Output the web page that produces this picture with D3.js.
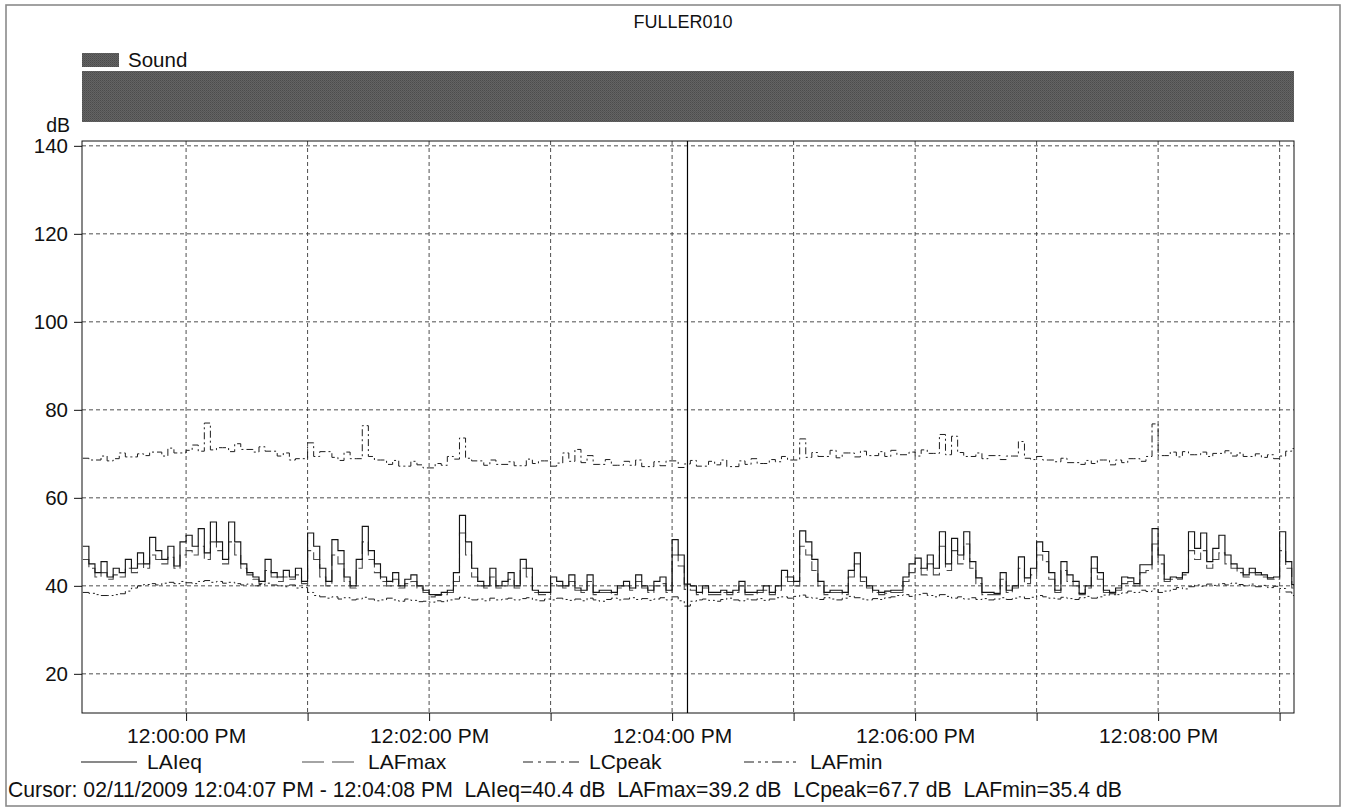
<!DOCTYPE html>
<html>
<head>
<meta charset="utf-8">
<script src="https://cdn.jsdelivr.net/npm/d3@7"></script>
<style>
  html, body { margin: 0; padding: 0; background: #fff; }
  svg { display: block; font-family: "Liberation Sans", Arial, sans-serif; }
</style>
</head>
<body>
<svg id="chart" width="1346" height="808"></svg>
<script>
// Sound level log, one value every 3 s starting 11:59:09 (dB)
const LAIeq = [
  49, 45, 43, 45.5, 42, 44, 43, 46, 44, 47.5,
  45, 51, 48, 46, 49, 44.5, 50, 51.5, 49, 53,
  47.5, 54.5, 50, 46, 54.5, 50, 45, 43, 42, 41,
  46, 43, 42, 43.5, 42, 44, 41, 52, 49, 44,
  41, 50.5, 48, 42, 40, 46, 53.5, 48, 45, 42,
  41, 43, 40, 41.5, 42.5, 40, 39, 38, 38, 38.5,
  39, 43, 56, 50, 44, 41, 40, 44, 40, 41,
  43, 40, 46, 44, 39, 38.5, 38.5, 42, 41, 40,
  42.5, 39.5, 39, 42.5, 38.5, 39, 39, 38.5, 40, 41,
  39.5, 42.5, 40, 39, 41, 42, 39, 50.5, 47, 40.4,
  40, 38.5, 40, 38.5, 38.5, 39, 38.5, 39, 41, 38.5,
  38.5, 39, 40, 38.5, 40, 43.5, 42, 41, 52.5, 50,
  46, 41, 38.5, 39, 39, 38.5, 43.5, 47.5, 42, 40,
  39, 38.5, 38.8, 39, 39, 42, 45, 46.3, 44, 47,
  44, 52.3, 45, 50.8, 47, 52.3, 45.5, 41.8, 38.5, 38.5,
  38.3, 43, 39, 40, 46.6, 41.8, 44, 50, 47.8, 43,
  39, 45.5, 42.5, 41, 38.3, 40, 46.6, 43, 39, 38.5,
  39.5, 42, 41.8, 40.5, 44.8, 44.8, 53, 47, 41.5, 42,
  41.8, 43, 52.3, 48.5, 52, 45.5, 48.5, 51.5, 47, 45,
  44, 42.5, 44, 43, 42.5, 41.8, 42, 52.3, 45.5, 40.3
];

const LAFmax = [
  46, 44, 42, 43, 41.5, 42.5, 42, 44, 43, 45,
  44, 47, 46, 45, 46.5, 44, 47, 48, 47, 49,
  46, 50, 48, 45, 50, 47, 44, 42.5, 41.5, 40.5,
  43.5, 42, 41, 42, 41.5, 42.5, 40.5, 48, 46, 42,
  40, 47, 45, 41, 39.5, 44, 50, 46, 43, 41,
  40, 41.5, 39.5, 40.5, 41, 39.5, 38.5, 37.5, 37.8, 38,
  38.5, 41, 52, 47, 42, 40, 39.5, 42, 39.5, 40,
  41.5, 39.5, 44, 42, 38.5, 38, 38, 40.5, 40, 39.5,
  41, 39, 38.5, 41, 38, 38.5, 38.5, 38, 39.5, 40,
  39, 41, 39.5, 38.5, 40, 40.5, 38.5, 47, 44.5, 39.2,
  39, 38, 39.5, 38, 38, 38.5, 38, 38.5, 40, 38,
  38, 38.5, 39, 38, 39, 42, 41, 40, 49, 47,
  43.5, 40, 38, 38.5, 38.5, 38, 42, 45, 41, 39.5,
  38.5, 38, 38.3, 38.5, 38.5, 41, 43, 44, 42.5, 45,
  42.5, 49, 43.5, 48, 45, 49.5, 44, 40.5, 38, 38,
  38, 41.5, 38.5, 39.5, 44, 40.5, 42.5, 47, 45.5, 41.5,
  38.5, 43.5, 41, 40, 38, 39.5, 44, 41.5, 38.5, 38,
  39, 40.5, 41, 40, 43, 43.5, 49.5, 45, 41, 41.5,
  41.5, 42.5, 48, 46, 48, 44, 46, 47.5, 45, 44,
  43, 42, 43, 42.5, 42, 41.5, 41.5, 48, 44, 39.5
];

const LCpeak = [
  69, 68.6, 68.6, 69.5, 68.4, 68.9, 70.2, 69.3, 69.3, 70,
  69.6, 70.4, 70.4, 69.5, 71.3, 70.2, 70.2, 70.8, 72, 70.6,
  77, 70.9, 71.4, 71.4, 70.5, 72.3, 71, 71, 70.4, 71.6,
  70.6, 70.6, 69.5, 70.2, 68.6, 68.9, 68.9, 72.5, 69.4, 70.5,
  70.5, 69.2, 68.5, 70.4, 68.9, 68.9, 76.4, 69.4, 68.6, 68.6,
  67.6, 68.5, 67.2, 67.2, 68.3, 67.5, 66.8, 66.8, 67.8, 67.4,
  69.4, 68.8, 73.6, 69, 68.4, 68.4, 67.4, 68.6, 67.6, 67.6,
  68.2, 67.3, 67.3, 68.8, 67.8, 68.4, 68.4, 67.2, 67.9, 70.2,
  68.3, 71, 68, 69.6, 67.6, 67.6, 68.7, 67.4, 67.4, 68.3,
  67.4, 68.6, 67.1, 67.1, 68.2, 67.3, 68.4, 68.4, 66.9, 67.7,
  68.5, 67.2, 67.2, 68.3, 67.5, 68.6, 67.1, 67.1, 68.4, 67.6,
  68.9, 67.8, 67.8, 68.7, 68.2, 69.4, 68.6, 68.6, 73.4, 69.2,
  70.3, 69.4, 69.4, 70.8, 69.1, 70.2, 70.2, 69.3, 70.6, 69.6,
  69.6, 70.5, 69.4, 70.8, 69.8, 69.8, 70.4, 69.5, 70.9, 70.1,
  70.1, 74.4, 69.8, 74, 70.3, 69.4, 69.4, 70.2, 68.9, 69.6,
  69.6, 68.7, 69.5, 69.5, 72.8, 69, 68.7, 69.4, 68.6, 68.6,
  68.2, 69, 68, 68, 67.6, 68.5, 67.8, 68.6, 68.6, 67.5,
  68.6, 68, 68.9, 68.9, 68.3, 69.4, 76.8, 69.6, 69.6, 70.4,
  69.3, 70.5, 69.8, 69.8, 70.4, 69.4, 70.1, 70.1, 70.7, 69.5,
  70.2, 69.4, 69.4, 70, 69.2, 69.8, 68.9, 69.5, 70.6, 71.2
];

const LAFmin = [
  38.5, 38.3, 38, 37.8, 37.8, 38, 38.2, 38.8, 39.5, 40,
  40.3, 40.5, 40.2, 40.6, 40.8, 40.5, 41, 40.7, 40.5, 41,
  41.2, 40.8, 41, 40.6, 40.8, 40.5, 40.2, 40.4, 40, 40.3,
  40.6, 40.2, 40, 39.8, 40.2, 39.5, 39.6, 38.5, 37.8, 37.5,
  37.2, 37.5, 37, 37.3, 36.8, 37, 37.4, 37, 36.6, 36.8,
  37.2, 36.8, 36.5, 37, 36.7, 36.4, 36.5, 36.3, 36.6, 36.4,
  36.8, 37, 37.4, 37.2, 36.8, 37, 36.6, 37.2, 36.8, 37,
  37.2, 36.8, 37.1, 37.3, 36.8, 36.6, 37, 36.8, 37.2, 36.9,
  36.7, 37, 36.6, 37.2, 36.8, 36.5, 36.9, 37.2, 36.8, 37,
  37.3, 36.9, 37.1, 36.7, 37, 37.3, 36.8, 37.5, 36.6, 35.4,
  36.5, 36.8, 37, 36.7, 36.5, 36.9, 37.2, 36.8, 36.6, 37,
  36.8, 37.1, 36.7, 37, 37.3, 37.5, 37.2, 37.6, 37.9, 37.4,
  37.2, 36.9, 37.3, 37, 36.8, 37.2, 37.6, 37.3, 37, 36.8,
  37.1, 36.9, 37.3, 37.5, 37.8, 38, 37.6, 38, 38.3, 37.8,
  37.5, 38, 37.6, 37.2, 37.5, 37, 37.3, 36.9, 37.1, 36.8,
  37, 37.3, 36.9, 37.2, 37.5, 37.1, 37.4, 37.8, 37.5, 37.2,
  37, 37.4, 37.1, 36.9, 37.3, 37.6, 37.2, 37.5, 37.9, 38.2,
  38, 38.4, 38.8, 38.5, 39, 38.7, 39.3, 38.5, 38.8, 39.2,
  39.6, 39.3, 39.8, 40.2, 39.9, 40.4, 40.1, 40.5, 40.2, 40.6,
  40.3, 40, 40.4, 39.8, 40.1, 39.6, 39.9, 39.4, 38.6, 37.8
];

const seriesNames = ["LAIeq", "LAFmax", "LCpeak", "LAFmin"];
const yTicks = [20, 40, 60, 80, 100, 120, 140];
const chartTitle = "FULLER010";
const bandLabel = "Sound";
const yUnit = "dB";
const cursorIndex = 99;          // sample holding 12:04:07
const cursorFrom = "12:04:07 PM";
const cursorTo = "12:04:08 PM";
const cursorDate = "02/11/2009";

// ---- time base ----
const startTime = new Date(2009, 1, 11, 11, 59, 9);
const stepMs = 3000;
const domainStart = new Date(2009, 1, 11, 11, 59, 8, 600);
const domainEnd = new Date(2009, 1, 11, 12, 9, 7, 100);
const cursorTime = new Date(2009, 1, 11, 12, 4, 7, 600);

const valuesBy = { LAIeq, LAFmax, LCpeak, LAFmin };
const styleBy = {
  LAIeq:  { stroke: "#151515", width: 1.15, dash: null,          legendDash: null },
  LAFmax: { stroke: "#4a4a4a", width: 1.1,  dash: "14,4",        legendDash: "22,8" },
  LCpeak: { stroke: "#1e1e1e", width: 1.0,  dash: "7,3,2,3",     legendDash: "10,5,3,5" },
  LAFmin: { stroke: "#1e1e1e", width: 1.0,  dash: "8,3,2,3,2,3", legendDash: "10,4,3,4,3,4" }
};

const plot = { left: 82, right: 1294, top: 141, bottom: 713 };
const svg = d3.select("#chart");
const ink = "#111";
const fontFamily = "'Liberation Sans', Arial, sans-serif";

// outer frame
svg.append("rect")
  .attr("x", 6).attr("y", 5).attr("width", 1334).attr("height", 801)
  .attr("fill", "none").attr("stroke", "#8a8a8a").attr("stroke-width", 1.6);

// title
svg.append("text")
  .attr("x", 683).attr("y", 28).attr("text-anchor", "middle")
  .attr("font-size", 18).attr("fill", ink).text(chartTitle);

// halftone-like texture for the event band
const defs = svg.append("defs");
const pat = defs.append("pattern").attr("id", "tone")
  .attr("width", 2).attr("height", 2).attr("patternUnits", "userSpaceOnUse");
pat.append("rect").attr("width", 2).attr("height", 2).attr("fill", "#646464");
pat.append("rect").attr("width", 1).attr("height", 1).attr("fill", "#4c4c4c");
pat.append("rect").attr("x", 1).attr("y", 1).attr("width", 1).attr("height", 1).attr("fill", "#565656");

defs.append("clipPath").attr("id", "plotClip")
  .append("rect")
  .attr("x", plot.left).attr("y", plot.top)
  .attr("width", plot.right - plot.left).attr("height", plot.bottom - plot.top);

// event band legend + band
svg.append("rect").attr("x", 82).attr("y", 53).attr("width", 37).attr("height", 14)
  .attr("fill", "url(#tone)");
svg.append("text").attr("x", 128).attr("y", 67).attr("font-size", 20.5).attr("fill", ink)
  .text(bandLabel);
svg.append("rect").attr("x", plot.left).attr("y", 71)
  .attr("width", plot.right - plot.left).attr("height", 51)
  .attr("fill", "url(#tone)");

// scales
const x = d3.scaleTime().domain([domainStart, domainEnd]).range([plot.left, plot.right]);
const y = d3.scaleLinear().domain([11.1, 141.1]).range([plot.bottom, plot.top]);

// gridlines
const minuteTicks = d3.timeMinute.range(domainStart, domainEnd);
const grid = svg.append("g").attr("stroke", "#3a3a3a").attr("stroke-width", 0.9)
  .attr("stroke-dasharray", "4,3");
grid.selectAll(".gx").data(minuteTicks).join("line")
  .attr("x1", d => x(d)).attr("x2", d => x(d))
  .attr("y1", plot.top).attr("y2", plot.bottom);
grid.selectAll(".gy").data(yTicks).join("line")
  .attr("x1", plot.left).attr("x2", plot.right)
  .attr("y1", d => y(d)).attr("y2", d => y(d));

// axes
const fmt = d3.timeFormat("%I:%M:%S %p");
const xAxis = d3.axisBottom(x).tickValues(minuteTicks).tickSize(8).tickPadding(7)
  .tickFormat(d => d.getMinutes() % 2 === 0 ? fmt(d) : "");
const gx = svg.append("g").attr("transform", `translate(0,${plot.bottom})`).call(xAxis);
gx.select(".domain").remove();
gx.selectAll("line").attr("stroke", ink);
gx.selectAll("text").attr("font-size", 21).attr("fill", ink).attr("font-family", fontFamily);

const yAxis = d3.axisLeft(y).tickValues(yTicks).tickSize(8).tickPadding(6);
const gy = svg.append("g").attr("transform", `translate(${plot.left},0)`).call(yAxis);
gy.select(".domain").remove();
gy.selectAll("line").attr("stroke", ink);
gy.selectAll("text").attr("font-size", 20.5).attr("fill", ink).attr("font-family", fontFamily);

svg.append("text").attr("x", 70).attr("y", 132).attr("text-anchor", "end")
  .attr("font-size", 19.5).attr("fill", ink).text(yUnit);

// plot frame
svg.append("rect")
  .attr("x", plot.left).attr("y", plot.top)
  .attr("width", plot.right - plot.left).attr("height", plot.bottom - plot.top)
  .attr("fill", "none").attr("stroke", ink).attr("stroke-width", 1);

// series
const line = d3.line().x(d => x(d.t)).y(d => y(d.v)).curve(d3.curveStepAfter);
const seriesLayer = svg.append("g").attr("clip-path", "url(#plotClip)");
["LCpeak", "LAFmin", "LAFmax", "LAIeq"].forEach(name => {
  const vals = valuesBy[name];
  const pts = vals.map((v, i) => ({ t: new Date(+startTime + i * stepMs), v }));
  pts.push({ t: domainEnd, v: vals[vals.length - 1] });
  const s = styleBy[name];
  seriesLayer.append("path").datum(pts)
    .attr("d", line)
    .attr("fill", "none")
    .attr("stroke", s.stroke)
    .attr("stroke-width", s.width)
    .attr("stroke-dasharray", s.dash);
});

// cursor
svg.append("line")
  .attr("x1", x(cursorTime)).attr("x2", x(cursorTime))
  .attr("y1", plot.top).attr("y2", plot.bottom)
  .attr("stroke", "#000").attr("stroke-width", 1.2);

// legend
const legendX = d3.scalePoint().domain(seriesNames).range([81, 744]);
const lg = svg.append("g");
seriesNames.forEach(name => {
  const s = styleBy[name];
  const lx = legendX(name);
  lg.append("line").attr("x1", lx).attr("x2", lx + 56).attr("y1", 762).attr("y2", 762)
    .attr("stroke", s.stroke).attr("stroke-width", 1.1).attr("stroke-dasharray", s.legendDash);
  lg.append("text").attr("x", lx + 66).attr("y", 769).attr("font-size", 21).attr("fill", ink)
    .text(name);
});

// cursor readout
const readout = `Cursor: ${cursorDate} ${cursorFrom} - ${cursorTo}  ` +
  seriesNames.map(n => `${n}=${valuesBy[n][cursorIndex].toFixed(1)} dB`).join("  ");
svg.append("text").attr("x", 8).attr("y", 797).attr("font-size", 21.2).attr("fill", ink)
  .style("white-space", "pre").text(readout);
</script>
</body>
</html>
